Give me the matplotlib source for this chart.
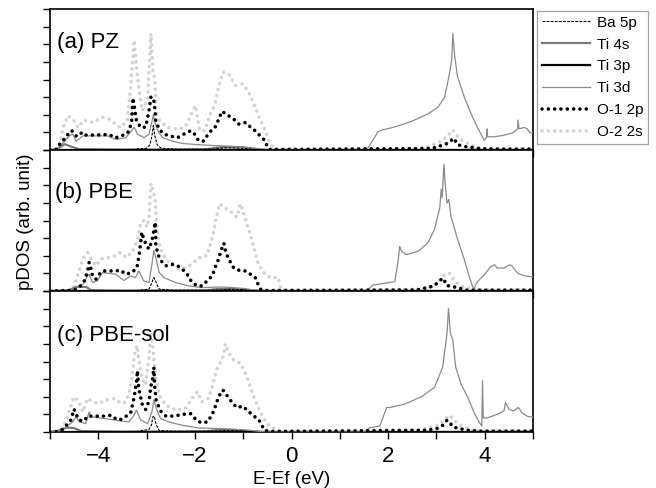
import numpy as np
import matplotlib
matplotlib.use("Agg")
import matplotlib.pyplot as plt
from matplotlib.ticker import MultipleLocator, NullFormatter

plt.rcParams["font.family"] = ["Liberation Sans", "DejaVu Sans"]

# ---- data: (E - Ef [eV], pDOS [arb.]) ----
# (a) PZ
pz_ba5p = [(-5, 0), (-3.3, 0.03), (-3.0, 0.1), (-2.93, 0.3), (-2.89, 0.8), (-2.86, 1.4), (-2.83, 0.8),
           (-2.78, 0.3), (-2.7, 0.1), (-2.4, 0.05), (-1.6, 0.05), (-1.4, 0.12), (-1.0, 0.1), (-0.7, 0.03),
           (-0.5, 0), (5, 0)]
pz_ti4s = [(-5, 0), (-4.85, 0.05), (-4.7, 0.33), (-4.57, 0.2), (-4.4, 0.05), (-3.5, 0.02), (-1.8, 0.03),
           (-1.5, 0.15), (-1.3, 0.18), (-1.0, 0.15), (-0.8, 0.05), (-0.5, 0), (5, 0)]
pz_ti3d = [(-5, 0), (-4.85, 0.05), (-4.8, 0.2), (-4.6, 0.8), (-4.53, 0.9), (-4.46, 0.5), (-4.32, 0.8),
           (-4.1, 0.8), (-3.8, 0.8), (-3.64, 0.6), (-3.43, 0.7), (-3.31, 1.1), (-3.26, 1.3), (-3.19, 0.9),
           (-3.05, 0.7), (-2.95, 0.9), (-2.89, 1.6), (-2.86, 2.0), (-2.83, 1.6), (-2.77, 1.1), (-2.67, 0.7),
           (-2.46, 0.5), (-2.26, 0.37), (-1.92, 0.3), (-1.58, 0.25), (-1.2, 0.2), (-0.9, 0.15), (-0.6, 0.05),
           (-0.45, 0), (1.45, 0), (1.59, 0.14), (1.79, 1.03), (1.86, 1.12), (2.14, 1.31), (2.48, 1.62),
           (2.82, 2.04), (3.03, 2.42), (3.17, 2.99), (3.27, 4.32), (3.32, 5.2), (3.34, 6.61), (3.38, 5.3),
           (3.44, 4.13), (3.58, 2.99), (3.72, 2.04), (3.85, 1.28), (3.99, 0.55), (4.04, 0.75), (4.05, 1.2),
           (4.06, 0.75), (4.2, 0.75), (4.4, 0.84), (4.58, 0.97), (4.68, 1.2), (4.69, 1.7), (4.71, 1.2),
           (4.82, 1.28), (4.88, 1.2), (4.93, 1.0), (5.0, 0.95)]
pz_o1 = [(-5, 0), (-4.85, 0.05), (-4.8, 0.33), (-4.7, 0.63), (-4.6, 0.99), (-4.55, 1.1), (-4.46, 0.8),
         (-4.4, 0.8), (-4.34, 1.0), (-4.28, 0.85), (-4.1, 0.85), (-3.9, 0.87), (-3.78, 0.88), (-3.64, 0.69),
         (-3.54, 0.8), (-3.42, 0.9), (-3.36, 1.09), (-3.31, 1.66), (-3.28, 2.95), (-3.21, 1.66), (-3.12, 1.27),
         (-3.02, 1.3), (-2.95, 2.23), (-2.91, 3.03), (-2.85, 2.8), (-2.83, 2.32), (-2.81, 1.66), (-2.74, 1.18),
         (-2.64, 0.9), (-2.52, 0.8), (-2.36, 0.7), (-2.23, 0.9), (-2.09, 1.09), (-2.03, 1.0), (-1.92, 0.51),
         (-1.82, 0.51), (-1.75, 0.8), (-1.64, 1.18), (-1.58, 1.3), (-1.49, 1.85), (-1.44, 2.19), (-1.30, 1.94),
         (-1.2, 1.76), (-1.09, 1.47), (-0.95, 1.56), (-0.85, 1.3), (-0.75, 1.09), (-0.65, 0.8), (-0.54, 0.51),
         (-0.5, 0.17), (-0.45, 0.03), (2.9, 0.08), (3.03, 0.2), (3.17, 0.3), (3.27, 0.45), (3.36, 0.67),
         (3.44, 0.3), (3.58, 0.2), (3.75, 0.14), (3.89, 0.08), (4.2, 0.05), (5, 0.05)]
pz_o2 = [(-5, 0), (-4.85, 0.05), (-4.8, 0.33), (-4.73, 1.27), (-4.63, 1.94), (-4.53, 1.76), (-4.42, 1.27),
         (-4.32, 1.66), (-4.2, 1.66), (-4.12, 1.56), (-3.91, 1.85), (-3.78, 1.76), (-3.64, 1.47), (-3.54, 1.27),
         (-3.4, 1.66), (-3.33, 3.56), (-3.26, 6.23), (-3.21, 4.7), (-3.16, 3.56), (-3.09, 2.23), (-2.98, 2.8),
         (-2.95, 4.5), (-2.91, 6.6), (-2.87, 4.5), (-2.83, 4.0), (-2.80, 2.1), (-2.73, 1.66), (-2.56, 1.27),
         (-2.33, 1.18), (-2.2, 1.3), (-1.99, 2.51), (-1.9, 1.1), (-1.8, 1.1), (-1.68, 2.04), (-1.58, 2.61),
         (-1.51, 3.56), (-1.42, 4.42), (-1.30, 4.33), (-1.16, 3.66), (-1.02, 3.75), (-0.90, 3.37), (-0.78, 2.61),
         (-0.67, 1.85), (-0.54, 1.09), (-0.44, 0.33), (-0.35, 0.03), (2.6, 0.08), (2.85, 0.2), (3.1, 0.5),
         (3.23, 0.8), (3.34, 1.13), (3.4, 0.9), (3.51, 0.57), (3.68, 0.34), (3.82, 0.15), (4.0, 0.06), (5, 0.06)]

# (b) PBE
pbe_ba5p = [(-5, 0), (-3.2, 0.03), (-2.95, 0.1), (-2.89, 0.48), (-2.85, 0.76), (-2.8, 0.48), (-2.74, 0.1),
            (-2.4, 0.04), (-1.5, 0.05), (-1.3, 0.1), (-1.0, 0.08), (-0.6, 0), (5, 0)]
pbe_ti4s = [(-5, 0), (-4.6, 0.05), (-4.46, 0.23), (-4.25, 0.23), (-4.15, 0.05), (-3.5, 0.02), (-1.8, 0.03),
            (-1.5, 0.12), (-1.2, 0.12), (-0.9, 0.05), (-0.6, 0), (5, 0)]
pbe_ti3d = [(-5, 0), (-4.6, 0.02), (-4.53, 0.1), (-4.32, 0.38), (-4.22, 0.86), (-4.19, 0.95), (-4.12, 0.48),
            (-4.02, 0.57), (-3.91, 1.05), (-3.64, 0.95), (-3.47, 0.6), (-3.33, 0.86), (-3.23, 0.76),
            (-3.16, 1.14), (-3.06, 0.57), (-2.95, 0.48), (-2.89, 1.52), (-2.85, 2.29), (-2.81, 1.9),
            (-2.74, 1.05), (-2.64, 0.76), (-2.4, 0.48), (-2.13, 0.29), (-1.85, 0.19), (-1.44, 0.23),
            (-1.0, 0.15), (-0.7, 0.03), (-0.6, 0), (1.55, 0), (1.69, 0.34), (1.93, 0.44), (2.14, 0.53),
            (2.21, 1.77), (2.24, 2.53), (2.28, 2.25), (2.37, 2.06), (2.62, 2.25), (2.82, 2.72), (2.96, 3.49),
            (3.07, 4.72), (3.10, 5.77), (3.12, 5.3), (3.155, 7.2), (3.18, 6.15), (3.22, 5.0), (3.26, 5.2),
            (3.30, 4.25), (3.44, 2.92), (3.58, 1.77), (3.68, 0.82), (3.75, 0.25), (3.78, 0.15), (3.85, 0.53),
            (3.99, 0.92), (4.13, 1.4), (4.2, 1.49), (4.26, 1.3), (4.4, 1.3), (4.52, 1.49), (4.57, 1.4),
            (4.68, 1.01), (4.82, 0.86), (4.94, 0.82), (5.0, 0.8)]
pbe_o1 = [(-5, 0), (-4.6, 0.03), (-4.46, 0.1), (-4.37, 0.29), (-4.29, 0.57), (-4.22, 1.14), (-4.19, 1.62),
          (-4.15, 1.24), (-4.12, 0.86), (-4.05, 0.67), (-3.98, 0.95), (-3.91, 1.14), (-3.78, 1.14),
          (-3.64, 1.14), (-3.54, 1.18), (-3.43, 0.95), (-3.3, 1.05), (-3.2, 1.33), (-3.15, 2.1), (-3.10, 3.33),
          (-3.06, 2.95), (-3.0, 2.57), (-2.95, 2.38), (-2.89, 2.86), (-2.85, 3.43), (-2.82, 3.9), (-2.81, 2.67),
          (-2.77, 2.1), (-2.70, 1.71), (-2.6, 1.43), (-2.47, 1.52), (-2.36, 1.43), (-2.26, 1.24), (-2.16, 0.95),
          (-2.06, 0.48), (-1.95, 0.29), (-1.85, 0.29), (-1.75, 0.57), (-1.64, 0.86), (-1.58, 1.33),
          (-1.51, 1.81), (-1.46, 2.29), (-1.40, 2.71), (-1.36, 2.19), (-1.30, 1.81), (-1.2, 1.33),
          (-1.06, 1.14), (-0.95, 1.14), (-0.85, 0.95), (-0.75, 0.76), (-0.68, 0.29), (-0.64, 0.1),
          (-0.55, 0.03), (2.6, 0.06), (2.82, 0.2), (2.96, 0.3), (3.07, 0.6), (3.15, 0.72), (3.2, 0.34),
          (3.3, 0.25), (3.44, 0.2), (3.6, 0.05), (5, 0.05)]
pbe_o2 = [(-5, 0), (-4.6, 0.03), (-4.53, 0.1), (-4.42, 0.95), (-4.32, 1.81), (-4.22, 2.19), (-4.15, 1.81),
          (-4.05, 1.43), (-3.95, 1.81), (-3.78, 1.9), (-3.64, 2.0), (-3.54, 2.19), (-3.43, 1.9), (-3.30, 2.19),
          (-3.18, 2.95), (-3.13, 3.8), (-3.06, 4.0), (-2.99, 3.62), (-2.95, 4.19), (-2.91, 6.1), (-2.87, 5.7),
          (-2.82, 5.14), (-2.80, 4.0), (-2.76, 2.86), (-2.67, 2.1), (-2.54, 1.62), (-2.4, 1.33), (-2.26, 1.24),
          (-2.13, 1.4), (-1.99, 1.71), (-1.85, 2.0), (-1.75, 2.0), (-1.63, 3.14), (-1.56, 4.1), (-1.49, 4.95),
          (-1.40, 4.76), (-1.30, 4.57), (-1.2, 4.38), (-1.13, 4.19), (-1.06, 4.95), (-0.99, 4.38),
          (-0.90, 3.62), (-0.82, 2.86), (-0.71, 1.71), (-0.61, 1.14), (-0.51, 0.86), (-0.41, 0.76),
          (-0.27, 0.76), (-0.22, 0.1), (-0.1, 0.03), (2.2, 0.08), (2.8, 0.12), (2.96, 0.34), (3.10, 0.72),
          (3.20, 1.0), (3.27, 1.0), (3.37, 0.6), (3.47, 0.34), (3.58, 0.2), (3.8, 0.06), (5, 0.06)]

# (c) PBE-sol
sol_ba5p = [(-5, 0), (-3.2, 0.03), (-2.95, 0.15), (-2.9, 0.4), (-2.87, 0.86), (-2.84, 0.9), (-2.8, 0.4),
            (-2.74, 0.08), (-2.4, 0.04), (-1.5, 0.06), (-1.3, 0.1), (-1.0, 0.08), (-0.6, 0), (5, 0)]
sol_ti4s = [(-5, 0), (-4.85, 0.05), (-4.65, 0.25), (-4.5, 0.22), (-4.35, 0.05), (-3.5, 0.02), (-1.8, 0.03),
            (-1.5, 0.12), (-1.2, 0.12), (-0.9, 0.05), (-0.6, 0), (5, 0)]
sol_ti3d = [(-5, 0), (-4.85, 0.03), (-4.76, 0.1), (-4.53, 0.57), (-4.46, 0.86), (-4.39, 0.57), (-4.26, 0.48),
            (-4.19, 1.14), (-4.15, 0.86), (-3.98, 0.8), (-3.64, 0.67), (-3.37, 0.57), (-3.26, 0.95),
            (-3.21, 1.24), (-3.12, 0.67), (-2.98, 0.48), (-2.89, 1.14), (-2.85, 1.81), (-2.8, 1.33),
            (-2.71, 0.76), (-2.54, 0.57), (-2.26, 0.38), (-1.92, 0.23), (-1.44, 0.19), (-1.0, 0.13),
            (-0.6, 0.02), (-0.5, 0), (1.5, 0), (1.62, 0.25), (1.83, 0.34), (1.97, 1.39), (2.04, 1.39),
            (2.34, 1.58), (2.69, 2.0), (2.96, 2.53), (3.13, 3.68), (3.22, 5.6), (3.25, 7.0), (3.29, 5.6),
            (3.34, 5.2), (3.40, 3.68), (3.51, 2.72), (3.65, 1.96), (3.78, 1.1), (3.89, 0.53), (3.94, 0.34),
            (3.955, 2.91), (3.97, 0.8), (4.05, 0.8), (4.26, 1.0), (4.4, 1.2), (4.43, 1.67), (4.5, 1.3),
            (4.6, 1.2), (4.7, 1.39), (4.77, 1.1), (4.87, 0.91), (4.94, 0.86), (5.0, 0.84)]
sol_o1 = [(-5, 0), (-4.85, 0.03), (-4.76, 0.1), (-4.66, 0.38), (-4.57, 0.67), (-4.5, 1.3), (-4.46, 1.0),
          (-4.39, 0.67), (-4.3, 0.62), (-4.22, 0.9), (-4.05, 0.9), (-3.88, 0.9), (-3.74, 0.95), (-3.67, 0.8),
          (-3.57, 0.67), (-3.47, 0.8), (-3.33, 1.09), (-3.26, 1.95), (-3.21, 2.81), (-3.19, 3.48),
          (-3.16, 2.43), (-3.09, 1.57), (-3.02, 1.28), (-2.95, 1.76), (-2.91, 2.62), (-2.88, 2.9),
          (-2.85, 3.67), (-2.83, 2.52), (-2.80, 1.76), (-2.71, 1.19), (-2.6, 0.9), (-2.43, 0.9), (-2.26, 1.0),
          (-2.09, 1.04), (-1.95, 0.62), (-1.85, 0.52), (-1.73, 0.58), (-1.61, 1.19), (-1.54, 1.76),
          (-1.48, 2.14), (-1.42, 2.38), (-1.33, 2.05), (-1.23, 1.67), (-1.13, 1.38), (-1.01, 1.47),
          (-0.9, 1.19), (-0.78, 0.9), (-0.68, 0.71), (-0.56, 0.1), (-0.45, 0.03), (2.8, 0.1), (3.02, 0.2),
          (3.13, 0.38), (3.22, 0.67), (3.27, 0.57), (3.34, 0.29), (3.47, 0.2), (3.65, 0.1), (3.9, 0.05),
          (5, 0.05)]
sol_o2 = [(-5, 0), (-4.85, 0.03), (-4.73, 0.19), (-4.63, 0.95), (-4.53, 1.81), (-4.48, 2.0), (-4.39, 1.62),
          (-4.32, 1.14), (-4.22, 1.9), (-4.12, 1.71), (-3.98, 1.62), (-3.85, 1.81), (-3.67, 1.9), (-3.57, 1.71),
          (-3.47, 1.62), (-3.37, 2.1), (-3.30, 3.05), (-3.25, 4.38), (-3.20, 4.9), (-3.16, 4.1), (-3.09, 3.05),
          (-3.02, 2.67), (-2.96, 4.0), (-2.91, 5.58), (-2.87, 4.8), (-2.81, 3.05), (-2.74, 2.1), (-2.6, 1.52),
          (-2.4, 1.24), (-2.2, 1.33), (-2.06, 1.9), (-1.95, 2.29), (-1.85, 1.71), (-1.72, 1.9), (-1.61, 2.86),
          (-1.54, 3.62), (-1.48, 3.9), (-1.40, 4.38), (-1.37, 5.0), (-1.30, 4.48), (-1.2, 4.1), (-1.06, 3.9),
          (-0.97, 3.43), (-0.89, 2.86), (-0.78, 2.0), (-0.68, 1.33), (-0.58, 0.76), (-0.44, 0.29),
          (-0.27, 0.1), (-0.1, 0.03), (2.6, 0.08), (3.02, 0.38), (3.16, 0.67), (3.27, 0.95), (3.34, 0.76),
          (3.44, 0.48), (3.58, 0.29), (3.72, 0.1), (3.9, 0.06), (5, 0.06)]

# Ti 3p is flat (zero) over this window
ti3p = [(-5, 0), (5, 0)]

panel_labels = ["(a) PZ", "(b) PBE", "(c) PBE-sol"]
label_pos = [(0.014, 0.72), (0.010, 0.657), (0.015, 0.648)]
panels = [
    [pz_ba5p, pz_ti4s, ti3p, pz_ti3d, pz_o1, pz_o2],
    [pbe_ba5p, pbe_ti4s, ti3p, pbe_ti3d, pbe_o1, pbe_o2],
    [sol_ba5p, sol_ti4s, ti3p, sol_ti3d, sol_o1, sol_o2],
]
names = ["Ba 5p", "Ti 4s", "Ti 3p", "Ti 3d", "O-1 2p", "O-2 2s"]

dot = (0, (0.001, 1.75))
styles = [
    dict(color="black", lw=0.8, ls=(0, (2.5, 1.2)), zorder=4),
    dict(color="#7a7a7a", lw=1.6, ls="-", zorder=3),
    dict(color="black", lw=1.6, ls="-", zorder=3),
    dict(color="#8a8a8a", lw=0.9, ls="-", zorder=5),
    dict(color="black", lw=2.6, ls=dot, dash_capstyle="round", zorder=6),
    dict(color="#d2d2d2", lw=2.6, ls=dot, dash_capstyle="round", zorder=2),
]

fig = plt.figure(figsize=(6.56, 4.88), dpi=100)
left, width, h = 50 / 656, 483 / 656, 141 / 488
bottoms = [1 - 150 / 488, 1 - 291 / 488, 1 - 432 / 488]

handles = []
for i, (series, bot) in enumerate(zip(panels, bottoms)):
    ax = fig.add_axes([left, bot, width, h])
    for k, (pts, st) in enumerate(zip(series, styles)):
        arr = np.array(pts)
        ln, = ax.plot(arr[:, 0], arr[:, 1], label=names[k], **st)
        if i == 0:
            handles.append(ln)
    ax.set_xlim(-5, 5)
    ax.set_ylim(0, 8)
    ax.xaxis.set_major_locator(MultipleLocator(2))
    ax.xaxis.set_minor_locator(MultipleLocator(1))
    ax.yaxis.set_major_locator(MultipleLocator(1))
    ax.yaxis.set_major_formatter(NullFormatter())
    ax.tick_params(axis="both", which="both", direction="out", length=5, width=1.0,
                   top=False, right=False, labelsize=16, pad=5)
    for sp in ax.spines.values():
        sp.set_linewidth(1.2)
    if i < 2:
        ax.xaxis.set_major_formatter(NullFormatter())
    else:
        ax.set_xlabel("E-Ef (eV)", fontsize=13.5, labelpad=3)
    ax.text(label_pos[i][0], label_pos[i][1], panel_labels[i], transform=ax.transAxes,
            fontsize=16, ha="left", va="baseline")

fig.text(0.039, 0.545, "pDOS (arb. unit)", rotation=90, ha="center", va="center", fontsize=13.5)

leg = fig.legend(handles=handles, loc="upper left", bbox_to_anchor=(537 / 656, 1 - 11 / 488),
                 bbox_transform=fig.transFigure, fontsize=11, frameon=True, fancybox=False,
                 borderaxespad=0, handlelength=3.2, handletextpad=0.4, labelspacing=0.52,
                 borderpad=0.3)
leg.get_frame().set_edgecolor("#8c8c8c")
leg.get_frame().set_linewidth(0.9)

fig.savefig("out.png", dpi=100)
